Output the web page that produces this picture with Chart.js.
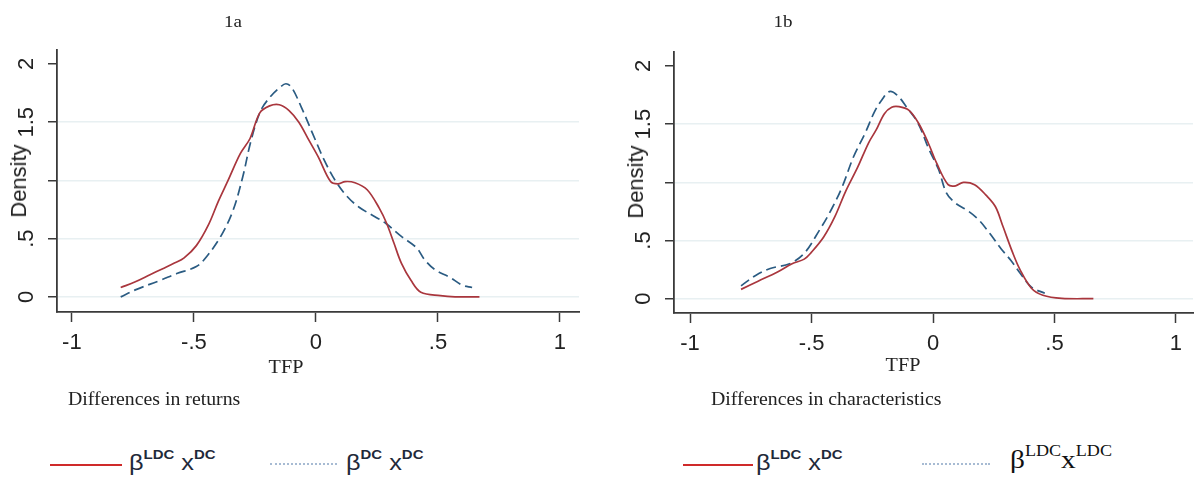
<!DOCTYPE html>
<html><head><meta charset="utf-8">
<script src="https://cdn.jsdelivr.net/npm/chart.js@4.4.0/dist/chart.umd.min.js"></script>
<style>
html,body{margin:0;padding:0;background:#fff;width:1195px;height:477px;overflow:hidden;}
body{position:relative;}
canvas{position:absolute;}
.t{position:absolute;white-space:nowrap;color:#222;line-height:1;}
.c{transform:translate(-50%,-50%) scaleX(1.12);}
.sx{transform-origin:0 0;transform:scaleX(1.1);}
.serif{font-family:"Liberation Serif","Times New Roman",serif;}
.sans{font-family:"Liberation Sans",Arial,sans-serif;}
.rot{transform:translate(-50%,-50%) rotate(-90deg);}
.line{position:absolute;height:0;}
.leg{position:absolute;white-space:nowrap;font-family:"Liberation Sans",Arial,sans-serif;font-size:22px;color:#1f2a3a;line-height:1;transform-origin:0 0;transform:scaleX(1.15);}
.leg sup{font-size:13px;font-weight:bold;vertical-align:0;position:relative;top:-11px;}
.legs{position:absolute;white-space:nowrap;font-family:"Liberation Serif","Times New Roman",serif;font-size:26px;color:#111;line-height:1;transform-origin:0 0;transform:scaleX(1.13);}
.legs sup{font-size:16px;vertical-align:0;position:relative;top:-12px;}
</style></head><body>
<canvas id="c1" width="600" height="360" style="left:0;top:0"></canvas>
<canvas id="c2" width="578" height="360" style="left:617px;top:0"></canvas>

<div class="t serif c" style="left:233px;top:21px;font-size:17px">1a</div>
<div class="t serif c" style="left:783px;top:21px;font-size:17px">1b</div>

<div class="t sans rot" style="left:19px;top:181px;font-size:22px">Density</div>
<div class="t sans rot" style="left:636px;top:182px;font-size:22px">Density</div>

<div class="t serif c" style="left:286px;top:367px;font-size:18px">TFP</div>
<div class="t serif c" style="left:903px;top:365px;font-size:18px">TFP</div>

<div class="t serif sx" style="left:68px;top:390px;font-size:18px">Differences in returns</div>
<div class="t serif sx" style="left:711px;top:390px;font-size:18px">Differences in characteristics</div>

<div class="line" style="left:50px;top:464px;width:72px;border-top:2px solid #cf2a2a"></div>
<div class="leg" style="left:129px;top:452px">β<sup>LDC</sup> x<sup>DC</sup></div>
<div class="line" style="left:270px;top:463px;width:67px;border-top:2px dotted #a7bbd3"></div>
<div class="leg" style="left:346px;top:452px">β<sup>DC</sup> x<sup>DC</sup></div>

<div class="line" style="left:683px;top:464px;width:70px;border-top:2px solid #cf2a2a"></div>
<div class="leg" style="left:756px;top:452px">β<sup>LDC</sup> x<sup>DC</sup></div>
<div class="line" style="left:922px;top:463px;width:68px;border-top:2px dotted #a7bbd3"></div>
<div class="legs" style="left:1010px;top:447px">β<sup>LDC</sup>x<sup>LDC</sup></div>

<script>
// ---- axis ticks ----
const xTickValues = [-1, -0.5, 0, 0.5, 1];
const xTickLabels = ['-1', '-.5', '0', '.5', '1'];
const yTickValues = [0, 0.5, 1, 1.5, 2];
const yTickLabels = ['0', '.5', '', '1.5', '2'];

// ---- Panel 1a: differences in returns ----
const a_red_x = [-0.80,-0.74,-0.68,-0.63,-0.58,-0.54,-0.49,-0.44,-0.40,-0.36,-0.31,-0.27,-0.23,-0.19,-0.15,-0.11,-0.07,-0.03,0.01,0.06,0.09,0.12,0.16,0.21,0.26,0.29,0.32,0.35,0.39,0.43,0.51,0.57,0.67];
const a_red_y = [0.08,0.13,0.19,0.24,0.29,0.335,0.44,0.62,0.82,1.00,1.23,1.36,1.58,1.64,1.65,1.60,1.50,1.35,1.20,0.99,0.97,0.99,0.98,0.92,0.76,0.63,0.46,0.29,0.14,0.04,0.01,0.0,0.0];
const a_blue_x = [-0.80,-0.74,-0.64,-0.57,-0.49,-0.45,-0.39,-0.34,-0.30,-0.265,-0.226,-0.186,-0.147,-0.123,-0.10,-0.06,-0.013,0.035,0.082,0.129,0.177,0.24,0.287,0.35,0.413,0.445,0.49,0.547,0.60,0.64];
const a_blue_y = [0.0,0.06,0.14,0.20,0.26,0.34,0.52,0.74,1.03,1.35,1.60,1.72,1.80,1.83,1.80,1.63,1.40,1.17,0.99,0.86,0.77,0.69,0.63,0.52,0.42,0.32,0.23,0.17,0.10,0.08];

// ---- Panel 1b: differences in characteristics ----
const b_red_x = [-0.79,-0.72,-0.64,-0.58,-0.53,-0.50,-0.45,-0.405,-0.36,-0.31,-0.265,-0.234,-0.20,-0.17,-0.14,-0.10,-0.06,-0.02,0.016,0.062,0.093,0.125,0.171,0.218,0.257,0.288,0.327,0.358,0.405,0.452,0.53,0.66];
const b_red_y = [0.08,0.15,0.23,0.30,0.34,0.40,0.53,0.70,0.92,1.13,1.34,1.45,1.59,1.645,1.65,1.62,1.51,1.34,1.16,0.98,0.97,1.00,0.98,0.89,0.79,0.62,0.40,0.25,0.09,0.03,0.003,0];
const b_blue_x = [-0.79,-0.73,-0.67,-0.59,-0.53,-0.467,-0.42,-0.374,-0.327,-0.28,-0.24,-0.21,-0.18,-0.148,-0.11,-0.062,-0.016,0.023,0.055,0.093,0.14,0.187,0.234,0.28,0.32,0.358,0.405,0.46];
const b_blue_y = [0.11,0.20,0.26,0.30,0.39,0.59,0.76,0.96,1.22,1.42,1.61,1.71,1.78,1.75,1.65,1.51,1.28,1.11,0.91,0.82,0.76,0.68,0.56,0.43,0.33,0.22,0.10,0.046];

const RED = '#a9363d', BLUE = '#2a5b82', AXIS = '#3a3a3a', GRID = '#e8f0f2';
const tickFont = {family: '"Liberation Sans", Arial, sans-serif', size: 22};

function pts(xs, ys) { return xs.map((x, i) => ({x: x, y: ys[i]})); }

function makeChart(id, redX, redY, blueX, blueY, cfg) {
  return new Chart(document.getElementById(id), {
    type: 'line',
    data: {
      datasets: [
        {data: pts(redX, redY), borderColor: RED, borderWidth: 1.7, pointRadius: 0, tension: 0.35, fill: false},
        {data: pts(blueX, blueY), borderColor: BLUE, borderWidth: 1.7, borderDash: [10, 5], pointRadius: 0, tension: 0.35, fill: false}
      ]
    },
    options: {
      responsive: false, animation: false, devicePixelRatio: 1,
      layout: {padding: {top: cfg.top, right: cfg.right, left: 0, bottom: 0}},
      plugins: {legend: {display: false}, tooltip: {enabled: false}},
      scales: {
        x: {
          type: 'linear', min: cfg.xmin, max: cfg.xmax,
          afterBuildTicks: s => { s.ticks = xTickValues.map(v => ({value: v})); },
          afterFit: s => { s.height = cfg.xh; },
          ticks: {autoSkip: false, maxRotation: 0, padding: 8, color: '#222', font: tickFont,
                  callback: v => xTickLabels[xTickValues.indexOf(v)]},
          grid: {drawOnChartArea: false, tickLength: 10, tickColor: AXIS, tickWidth: 1.5},
          border: {color: AXIS, width: 1.8}
        },
        y: {
          type: 'linear', min: cfg.ymin, max: cfg.ymax,
          afterBuildTicks: s => { s.ticks = yTickValues.map(v => ({value: v})); },
          afterFit: s => { s.width = 57; },
          ticks: {autoSkip: false, minRotation: 90, maxRotation: 90, crossAlign: 'center', padding: 6,
                  color: '#222', font: tickFont,
                  callback: v => yTickLabels[yTickValues.indexOf(v)]},
          grid: {color: c => (c.tick && c.tick.value === 2) ? 'rgba(0,0,0,0)' : GRID, lineWidth: 1.5,
                 tickLength: 9, tickColor: AXIS, tickWidth: 1.5},
          border: {color: AXIS, width: 1.8}
        }
      }
    }
  });
}

makeChart('c1', a_red_x, a_red_y, a_blue_x, a_blue_y,
  {top: 50, right: 21, xmin: -1.061, xmax: 1.078, ymin: -0.13, ymax: 2.12, xh: 48});
makeChart('c2', b_red_x, b_red_y, b_blue_x, b_blue_y,
  {top: 52, right: 2, xmin: -1.066, xmax: 1.07, ymin: -0.123, ymax: 2.12, xh: 47});
</script>
</body></html>
